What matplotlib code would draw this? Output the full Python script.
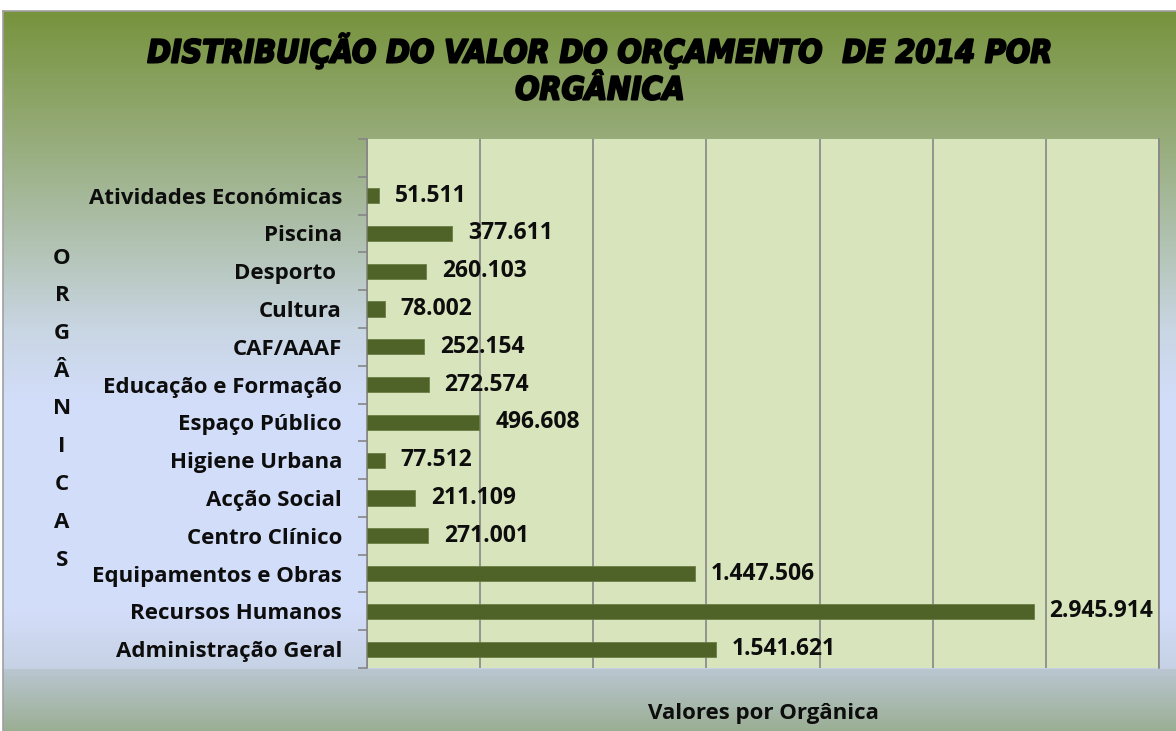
import matplotlib
matplotlib.use("Agg")
import matplotlib.pyplot as plt
from matplotlib import colors
from matplotlib import font_manager as fm
import matplotlib.patheffects as pe
import numpy as np

# Data -----
categorias = ["Atividades Económicas", "Piscina", "Desporto ", "Cultura", "CAF/AAAF",
              "Educação e Formação", "Espaço Público", "Higiene Urbana", "Acção Social",
              "Centro Clínico", "Equipamentos e Obras", "Recursos Humanos",
              "Administração Geral"]
valores = [51511, 377611, 260103, 78002, 252154, 272574, 496608, 77512, 211109,
           271001, 1447506, 2945914, 1541621]
titulo = ["DISTRIBUIÇÃO DO VALOR DO ORÇAMENTO  DE 2014 POR", "ORGÂNICA"]
rotulo_y = "ORGÂNICAS"
rotulo_x = "Valores por Orgânica"

W, H = 1176, 731
font = "Open Sans"
fs = 16
bar_color = "#4f6228"
grid_color = "#868686"
txt_color = "#0d0d0d"

def fmt(v):
    return "{:,}".format(v).replace(",", ".")

# find a narrow bold italic font for the title, if any
title_fp = None
for f in fm.fontManager.ttflist:
    p = f.fname
    if ("Narrow-BoldItalic" in p or "Condensed-BoldOblique" in p
            or "Condensed-BoldItalic" in p):
        title_fp = fm.FontProperties(fname=p)
        break
if title_fp is None:
    title_fp = fm.FontProperties(family="Liberation Sans", weight="bold", style="italic")

fig = plt.figure(figsize=(W / 100, H / 100), dpi=100, facecolor="white")

# Background gradient (chart area) -----
bg = fig.add_axes([3 / W, 0, 1 - 3 / W, 1 - 11 / H])
rows = np.arange(11, H)
stops_y = [11, 140, 250, 330, 400, 610, 668, 669, 731]
stops_c = ["#77933c", "#97ac7b", "#b3c4b6", "#c9d6e4", "#d2ddf9", "#d3ddfa", "#c6d2e4",
           "#b9c6d0", "#9aae93"]
rgb = np.array([colors.to_rgb(c) for c in stops_c])
grad = np.stack([np.interp(rows, stops_y, rgb[:, k]) for k in range(3)], axis=1)
img = np.repeat(grad[:, None, :], 2, axis=1)
bg.imshow(img, aspect="auto", extent=[0, 1, 0, 1])
bg.set_xticks([])
bg.set_yticks([])
for s in ["right", "bottom"]:
    bg.spines[s].set_visible(False)
for s in ["left", "top"]:
    bg.spines[s].set_color("#a0a0a0")
    bg.spines[s].set_linewidth(1.2)

# Plot -----
ax = fig.add_axes([367 / W, 63 / H, (1159 - 367) / W, (668 - 139) / H])
ax.set_facecolor("#d8e4bc")
y = np.arange(len(categorias))
ax.barh(y, valores, height=0.4, color=bar_color, edgecolor="#6b7f45", linewidth=0.6, zorder=3)
ax.set_xlim(0, 3500000)
ax.set_ylim(len(categorias) - 0.5, -1.5)  # one empty slot on top
ax.set_xticks(np.arange(0, 3500001, 500000))
ax.xaxis.grid(True, color=grid_color, linewidth=1.2, zorder=1)
ax.tick_params(axis="x", length=0, labelbottom=False)

ax.set_yticks(y)
ax.set_yticklabels(categorias, fontsize=fs, fontweight="bold", family=font, color=txt_color)
ax.set_yticks(np.arange(-1.5, len(categorias)), minor=True)
ax.tick_params(axis="y", which="major", length=0, pad=18)
ax.tick_params(axis="y", which="minor", length=6.5, width=1.2, color=grid_color, direction="out")

for s in ["top", "bottom"]:
    ax.spines[s].set_visible(False)
for s in ["left", "right"]:
    ax.spines[s].set_color(grid_color)
    ax.spines[s].set_linewidth(1.2)

for yi, v in zip(y, valores):
    ax.annotate(fmt(v), xy=(v, yi), xytext=(11.5, 0), textcoords="offset points",
                va="center", ha="left", fontsize=16.5, fontweight="bold",
                family=font, color=txt_color)

ax.set_xlabel(rotulo_x, fontsize=fs, fontweight="bold", family=font, color=txt_color)
ax.xaxis.set_label_coords(0.5, -(713 - 668) / 529)
ax.xaxis.label.set_va("center")

# Title: two lines, fitted to the reference width -----
title_fp.set_size(26)
t1 = fig.text(600 / W, 1 - 51 / H, titulo[0], ha="center", va="center",
              fontproperties=title_fp, color="black",
              path_effects=[pe.withStroke(linewidth=1.5, foreground="black")])
r = fig.canvas.get_renderer()
wpx = t1.get_window_extent(r).width
size = 26 * 905 / wpx
title_fp.set_size(size)
t1.set_fontproperties(title_fp)
t2 = fig.text(600 / W, 1 - 91 / H, titulo[1], ha="center", va="center",
              fontproperties=title_fp, color="black",
              path_effects=[pe.withStroke(linewidth=1.5, foreground="black")])

# Vertical stacked y label -----
for i, ch in enumerate(rotulo_y):
    fig.text(62 / W, 1 - (258 + i * 37.75) / H, ch, ha="center", va="center",
             fontsize=fs, fontweight="bold", family=font, color=txt_color)

fig.savefig("out.png", dpi=100, facecolor="white")
